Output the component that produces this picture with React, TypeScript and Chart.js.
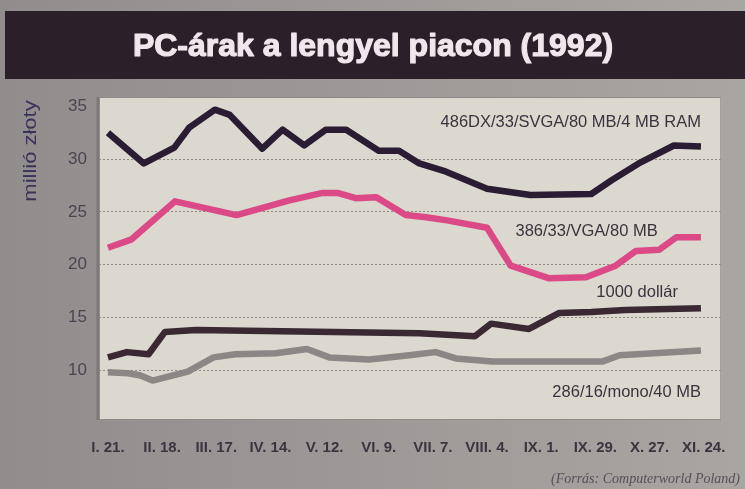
import React, { useEffect, useRef } from "react";
import { Chart, registerables } from "chart.js";

Chart.register(...registerables);

// ---- data ----
const titleText = "PC-árak a lengyel piacon (1992)";
const yAxisTitle = "millió złoty";
const sourceText = "(Forrás: Computerworld Poland)";

// x axis: weeks since I.21., labels every 4 weeks
const xTickWeeks = [0, 4, 8, 12, 16, 20, 24, 28, 32, 36, 40, 44];
const xTickLabels = ["I. 21.", "II. 18.", "III. 17.", "IV. 14.", "V. 12.", "VI. 9.", "VII. 7.", "VIII. 4.", "IX. 1.", "IX. 29.", "X. 27.", "XI. 24."];
const yTickValues = [10, 15, 20, 25, 30, 35];

const series486Name = "486DX/33/SVGA/80 MB/4 MB RAM";
const weeks486 = [0, 2.65, 4.9, 6.0, 7.9, 9.0, 11.4, 12.9, 14.5, 16.1, 17.6, 20.0, 21.5, 23.0, 24.8, 28.0, 31.2, 35.7, 37.2, 39.2, 41.8, 43.8];
const values486 = [32.5, 29.6, 31.1, 33.0, 34.7, 34.2, 31.0, 32.8, 31.3, 32.8, 32.8, 30.8, 30.8, 29.6, 28.9, 27.2, 26.6, 26.7, 28.0, 29.6, 31.3, 31.2];

const series386Name = "386/33/VGA/80 MB";
const weeks386 = [0, 1.75, 4.95, 9.5, 13.4, 15.85, 16.95, 18.3, 19.8, 22.0, 23.5, 25.05, 28.0, 29.75, 32.6, 35.3, 37.5, 39.0, 40.7, 42.0, 43.8];
const values386 = [21.6, 22.4, 26.0, 24.7, 26.1, 26.8, 26.8, 26.3, 26.4, 24.7, 24.5, 24.2, 23.5, 19.9, 18.7, 18.8, 19.9, 21.3, 21.4, 22.6, 22.6];

const seriesUsdName = "1000 dollár";
const weeksUsd = [0, 1.4, 3.0, 4.2, 6.5, 23.0, 27.1, 28.3, 31.1, 33.3, 35.7, 38.2, 43.8];
const valuesUsd = [11.2, 11.7, 11.5, 13.6, 13.8, 13.5, 13.2, 14.4, 13.9, 15.4, 15.5, 15.7, 15.85];

const series286Name = "286/16/mono/40 MB";
const weeks286 = [0, 1.5, 2.35, 3.3, 5.9, 7.8, 9.4, 12.4, 14.7, 16.35, 19.3, 22.25, 24.2, 25.7, 28.4, 36.5, 37.8, 43.8];
const values286 = [9.8, 9.7, 9.5, 9.0, 9.85, 11.2, 11.5, 11.6, 12.0, 11.2, 11.0, 11.4, 11.7, 11.1, 10.8, 10.8, 11.4, 11.85];

// label anchors in data units (week, value) – right aligned text
const labelAnchors = [
  { text: series486Name, w: 43.8, v: 33.5 },
  { text: series386Name, w: 40.6, v: 23.1 },
  { text: seriesUsdName, w: 42.1, v: 17.4 },
  { text: series286Name, w: 43.8, v: 7.9 },
];

const toPoints = (ws: number[], vs: number[]) => ws.map((w, i) => ({ x: w, y: vs[i] }));

const SANS = "'Liberation Sans', Arial, Helvetica, sans-serif";

const backgroundPlugin = {
  id: "bg",
  beforeDraw(chart: any) {
    const { ctx, width, height, chartArea } = chart;
    ctx.save();
    const g = ctx.createLinearGradient(0, 0, width, 0);
    g.addColorStop(0, "#918d8d");
    g.addColorStop(1, "#a9a5a2");
    ctx.fillStyle = g;
    ctx.fillRect(0, 0, width, height);
    // title bar
    ctx.fillStyle = "#2b2029";
    ctx.fillRect(5, 11, width - 5, 68);
    // plot area
    ctx.fillStyle = "#dbd8cf";
    ctx.fillRect(chartArea.left, chartArea.top, chartArea.right - chartArea.left, chartArea.bottom - chartArea.top);
    ctx.strokeStyle = "#7e7979";
    ctx.lineWidth = 3;
    ctx.beginPath();
    ctx.moveTo(chartArea.left - 1, chartArea.top);
    ctx.lineTo(chartArea.left - 1, chartArea.bottom);
    ctx.stroke();
    ctx.strokeStyle = "#8f8a88";
    ctx.lineWidth = 1;
    ctx.strokeRect(chartArea.left + 0.5, chartArea.top + 0.5, chartArea.right - chartArea.left - 1, chartArea.bottom - chartArea.top - 1);
    // title
    ctx.fillStyle = "#efe7eb";
    ctx.strokeStyle = "#efe7eb";
    ctx.lineWidth = 1.2;
    ctx.lineJoin = "round";
    ctx.font = `bold 32px ${SANS}`;
    ctx.textAlign = "center";
    ctx.textBaseline = "middle";
    ctx.fillText(titleText, 373, 47);
    ctx.strokeText(titleText, 373, 47);
    ctx.restore();
  },
  afterDraw(chart: any) {
    const { ctx } = chart;
    const xs = chart.scales.x;
    const ys = chart.scales.y;
    ctx.save();
    ctx.fillStyle = "#3b3340";
    ctx.font = `16.5px ${SANS}`;
    ctx.textAlign = "right";
    ctx.textBaseline = "middle";
    labelAnchors.forEach((a) => {
      ctx.fillText(a.text, xs.getPixelForValue(a.w), ys.getPixelForValue(a.v));
    });
    // y axis title
    ctx.save();
    ctx.translate(31, 151);
    ctx.rotate(-Math.PI / 2);
    ctx.scale(1.22, 1);
    ctx.fillStyle = "#3a3358";
    ctx.font = `18px ${SANS}`;
    ctx.textAlign = "center";
    ctx.textBaseline = "middle";
    ctx.fillText(yAxisTitle, 0, 0);
    ctx.restore();
    // source
    ctx.fillStyle = "#55505a";
    ctx.font = `italic 14px 'Liberation Serif', 'Times New Roman', serif`;
    ctx.textAlign = "right";
    ctx.textBaseline = "middle";
    ctx.fillText(sourceText, 740, 479);
    ctx.restore();
  },
};

export default function App() {
  const ref = useRef<HTMLCanvasElement>(null);
  useEffect(() => {
    document.body.style.margin = "0";
    const canvas = ref.current!;
    const common = { borderWidth: 6.5, pointRadius: 0, tension: 0, borderJoinStyle: "round" as const, borderCapStyle: "butt" as const, fill: false };
    const chart = new Chart(canvas, {
      type: "line",
      data: {
        datasets: [
          { label: series286Name, data: toPoints(weeks286, values286), borderColor: "#8c8686", ...common },
          { label: seriesUsdName, data: toPoints(weeksUsd, valuesUsd), borderColor: "#3a2932", ...common },
          { label: series386Name, data: toPoints(weeks386, values386), borderColor: "#db4a86", ...common },
          { label: series486Name, data: toPoints(weeks486, values486), borderColor: "#2a1d33", ...common },
        ],
      },
      options: {
        animation: false,
        responsive: false,
        devicePixelRatio: 1,
        layout: { padding: { top: 97, right: 23, left: 0, bottom: 0 } },
        plugins: { legend: { display: false }, tooltip: { enabled: false }, title: { display: false } },
        scales: {
          x: {
            type: "linear",
            min: -0.66,
            max: 45.3,
            afterBuildTicks: (s: any) => {
              s.ticks = xTickWeeks.map((v) => ({ value: v }));
            },
            afterFit: (s: any) => {
              s.height = 69;
            },
            grid: { display: false, drawTicks: false },
            border: { display: false },
            ticks: {
              autoSkip: false,
              maxRotation: 0,
              padding: 19,
              color: "#3a3540",
              font: { family: SANS, size: 15, weight: "bold" },
              callback: (v: any) => xTickLabels[xTickWeeks.indexOf(Number(v))] ?? "",
            },
          },
          y: {
            type: "linear",
            min: 5.26,
            max: 35.9,
            afterBuildTicks: (s: any) => {
              s.ticks = yTickValues.map((v) => ({ value: v }));
            },
            afterFit: (s: any) => {
              s.width = 99;
            },
            grid: {
              drawTicks: false,
              lineWidth: 1,
              color: (c: any) => (c.tick && c.tick.value === 35 ? "rgba(0,0,0,0)" : "#8e8987"),
            },
            border: { display: false, dash: [2, 2] },
            ticks: {
              padding: 12,
              color: "#4a4550",
              font: { family: SANS, size: 17 },
              callback: (v: any) => String(v),
            },
          },
        },
      },
      plugins: [backgroundPlugin],
    });
    return () => chart.destroy();
  }, []);
  return (
    <div style={{ width: 745, height: 489 }}>
      <canvas ref={ref} width={745} height={489} style={{ display: "block" }} />
    </div>
  );
}
